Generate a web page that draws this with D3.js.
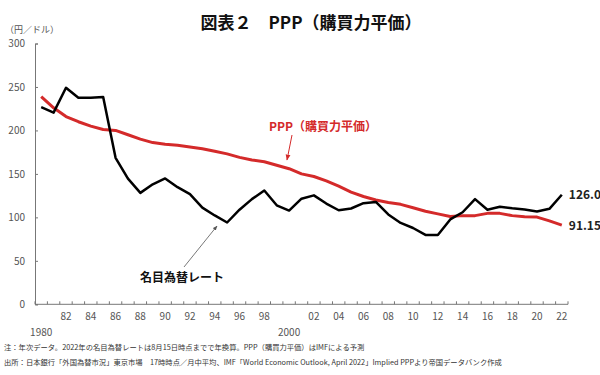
<!DOCTYPE html>
<html>
<head>
<meta charset="utf-8">
<script src="https://cdn.jsdelivr.net/npm/d3@7"></script>
<style>
  body { margin: 0; background: #fff; }
  svg text { font-family: "Noto Sans CJK JP", "Noto Sans", sans-serif; }
</style>
</head>
<body>
<script>
// data
var years = d3.range(1980, 2023)
var nominal = [226.7, 220.5, 249.1, 237.5, 237.5, 238.5, 168.5, 144.6, 128.2, 138.0,
    144.8, 134.7, 126.7, 111.2, 102.2, 94.1, 108.8, 121.0, 130.9, 113.9,
    107.8, 121.5, 125.3, 115.9, 108.2, 110.2, 116.3, 117.8, 103.4, 93.6,
    87.8, 79.8, 79.8, 97.6, 105.9, 121.0, 108.8, 112.2, 110.4, 109.0,
    106.8, 109.8, 126.0]
var ppp = [239, 226, 216, 210, 205, 201, 200, 195, 190, 186,
    184, 183, 181, 179, 176, 173, 169, 166, 164, 160,
    156, 150, 147, 142, 136, 129, 124, 120, 117, 115,
    111, 107, 104, 101, 102, 102, 104.6, 104.6, 102, 100.8,
    100.3, 96, 91.15]
var yTicks = [0, 50, 100, 150, 200, 250, 300]

var width = 600, height = 375

var svg = d3.select("body").append("svg")
    .attr("width", width)
    .attr("height", height)

svg.append("defs").selectAll("marker")
    .data([["arrRed", "#d42a2a"], ["arrGray", "#555"]])
    .enter().append("marker")
    .attr("id", function(d) { return d[0] })
    .attr("viewBox", "0 0 10 10")
    .attr("refX", 9).attr("refY", 5)
    .attr("markerWidth", 6).attr("markerHeight", 6)
    .attr("orient", "auto")
    .append("path")
    .attr("d", "M0,1 L10,5 L0,9 Z")
    .attr("fill", function(d) { return d[1] })

var x = d3.scaleBand()
    .domain(years)
    .range([35, 568])

var y = d3.scaleLinear()
    .domain([0, 300])
    .range([304.3, 43.5])

var cx = function(yr) { return x(yr) + x.bandwidth() / 2 }

// y axis, ticks point inward
var yAxis = svg.append("g")
    .attr("transform", "translate(35,0)")
    .call(d3.axisLeft(y).tickValues(yTicks).tickSize(-3).tickPadding(10))
yAxis.select(".domain").attr("stroke", "#777")
yAxis.selectAll(".tick line").attr("stroke", "#777")
yAxis.selectAll("text").attr("fill", "#555").style("font-size", "10px")

// x axis: ticks at band edges
var xg = svg.append("g")
xg.append("line")
    .attr("x1", 35).attr("x2", 568)
    .attr("y1", y(0)).attr("y2", y(0))
    .attr("stroke", "#777")
xg.selectAll("line.tk")
    .data(years.concat([2023]))
    .enter().append("line")
    .attr("class", "tk")
    .attr("x1", function(d) { return d === 2023 ? 568 : x(d) })
    .attr("x2", function(d) { return d === 2023 ? 568 : x(d) })
    .attr("y1", y(0) - 3).attr("y2", y(0))
    .attr("stroke", "#777")
xg.selectAll("text.yr")
    .data(years)
    .enter().append("text")
    .attr("class", "yr")
    .attr("x", function(d) { return cx(d) })
    .attr("y", function(d) { return (d === 1980 || d === 2000) ? 336 : 320 })
    .attr("text-anchor", "middle")
    .attr("fill", "#555")
    .style("font-size", "10px")
    .text(function(d) {
        if (d === 1980 || d === 2000) return d
        if (d % 2 === 0) return String(d % 100).padStart(2, "0")
        return ""
    })

// lines
var line = d3.line()
    .x(function(d, i) { return cx(years[i]) })
    .y(function(d) { return y(d) })

svg.append("path")
    .datum(ppp)
    .attr("d", line)
    .attr("fill", "none")
    .attr("stroke", "#d42a2a")
    .attr("stroke-width", 3)
    .attr("stroke-linejoin", "round")

svg.append("path")
    .datum(nominal)
    .attr("d", line)
    .attr("fill", "none")
    .attr("stroke", "#000")
    .attr("stroke-width", 2.5)
    .attr("stroke-linejoin", "round")

// end labels
svg.append("text")
    .attr("x", cx(2022) + 7).attr("y", y(nominal[nominal.length - 1]) + 4)
    .style("font-size", "12px").style("font-weight", "bold")
    .attr("fill", "#222")
    .text(nominal[nominal.length - 1].toFixed(1))
svg.append("text")
    .attr("x", cx(2022) + 7).attr("y", y(ppp[ppp.length - 1]) + 5)
    .style("font-size", "12px").style("font-weight", "bold")
    .attr("fill", "#222")
    .text(ppp[ppp.length - 1])

// annotations
svg.append("text")
    .attr("x", 269).attr("y", 131)
    .attr("fill", "#d42a2a")
    .style("font-size", "12px").style("font-weight", "bold")
    .text("PPP（購買力平価）")
svg.append("line")
    .attr("x1", 292).attr("y1", 135).attr("x2", 287).attr("y2", 160)
    .attr("stroke", "#d42a2a").attr("stroke-width", 1)
    .attr("marker-end", "url(#arrRed)")

svg.append("text")
    .attr("x", 140).attr("y", 282)
    .attr("fill", "#111")
    .style("font-size", "12px").style("font-weight", "bold")
    .text("名目為替レート")
svg.append("line")
    .attr("x1", 184).attr("y1", 267).attr("x2", 217).attr("y2", 226)
    .attr("stroke", "#555").attr("stroke-width", 0.8)
    .attr("marker-end", "url(#arrGray)")

// title and notes
svg.append("text")
    .attr("x", 311).attr("y", 29)
    .attr("text-anchor", "middle")
    .style("font-size", "17px").style("font-weight", "bold")
    .attr("fill", "#111")
    .text("図表２　PPP（購買力平価）")

svg.append("text")
    .attr("x", 5).attr("y", 32.5)
    .attr("fill", "#555")
    .style("font-size", "9px")
    .text("（円／ドル）")

svg.append("text")
    .attr("x", 4).attr("y", 350)
    .attr("fill", "#333")
    .style("font-size", "7.3px")
    .text("注：年次データ。2022年の名目為替レートは8月15日時点までで年換算。PPP（購買力平価）はIMFによる予測")
svg.append("text")
    .attr("x", 4).attr("y", 365)
    .attr("fill", "#333")
    .style("font-size", "7.3px")
    .text("出所：日本銀行「外国為替市況」東京市場　17時時点／月中平均、IMF「World Economic Outlook, April 2022」Implied PPPより帝国データバンク作成")
</script>
</body>
</html>
